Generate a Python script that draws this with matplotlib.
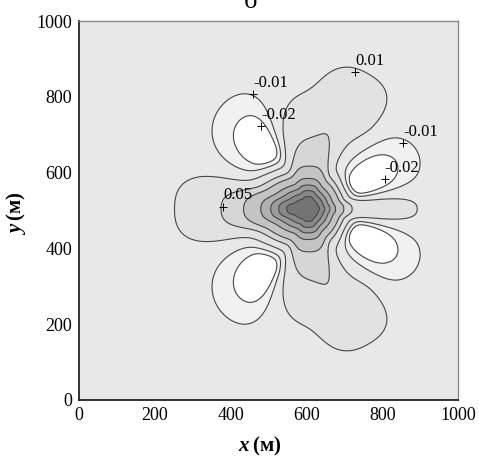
import numpy as np
import matplotlib.pyplot as plt

plt.rcParams['font.family'] = ['Liberation Serif', 'DejaVu Serif']
plt.rcParams['mathtext.fontset'] = 'custom'
plt.rcParams['mathtext.bfit'] = 'Liberation Serif:italic:bold'
plt.rcParams['mathtext.rm'] = 'Liberation Serif'

# центр и лепестки поля (оценка по рисунку, координаты в метрах)
x0, y0 = 605, 504
core_amp = 0.6
core_sx_left, core_sx_right, core_sy = 70, 45, 46

lobe_ang = [0, 88, -88, 66, -66, 180, 28, -28, 126, -126]          # град.
lobe_amp = [0.035, 0.072, 0.072, 0.026, 0.026, 0.08,
            -0.034, -0.034, -0.032, -0.032]
lobe_r = [120, 100, 100, 280, 280, 107, 145, 145, 190, 190]
lobe_w_in = [1e4, 1e4, 1e4, 50, 50, 1e4, 40, 40, 45, 45]
lobe_w_out = [125, 110, 110, 75, 75, 121, 115, 115, 110, 110]
lobe_width = [9, 21, 21, 13, 13, 15, 14, 14, 17, 17]              # град.
lobe_power = [3, 4, 4, 3, 3, 3, 2, 2, 2, 2]

levels = [-1.0, -0.02, -0.01, 0.01, 0.05, 0.1, 0.2, 0.3, 0.4, 0.5, 1.0]
fill_colors = ['#ffffff', '#f1f1f1', '#e8e8e8', '#e2e2e2', '#d6d6d6',
               '#c4c4c4', '#b0b0b0', '#9c9c9c', '#888888', '#747474']

label_text = ['0.01', '-0.01', '-0.02', '-0.01', '-0.02', '0.05']
label_x = [728, 459, 480, 855, 807, 380]
label_y = [865, 807, 723, 678, 583, 510]

# сетка
xs = np.linspace(0, 1000, 501)
X, Y = np.meshgrid(xs, xs)
dx, dy = X - x0, Y - y0
R = np.hypot(dx, dy)
T = np.degrees(np.arctan2(dy, dx))

sx = np.where(dx < 0, core_sx_left, core_sx_right)
Z = core_amp * np.exp(-0.5 * ((dx / sx) ** 2 + (dy / core_sy) ** 2))
taper = 1 - np.exp(-(R / 40) ** 2)
for ang, amp, rc, w_in, w_out, wid, p in zip(lobe_ang, lobe_amp, lobe_r, lobe_w_in,
                                             lobe_w_out, lobe_width, lobe_power):
    d = np.abs((T - ang + 180) % 360 - 180)
    w = np.where(R < rc, w_in, w_out)
    Z += amp * taper * np.exp(-0.5 * ((R - rc) / w) ** 2) * np.exp(-0.5 * (d / wid) ** p)

fig = plt.figure(figsize=(4.79, 4.57), dpi=100)
ax = fig.add_axes([79 / 479, 1 - 400 / 457, 379 / 479, 379 / 457])

ax.contourf(X, Y, Z, levels=levels, colors=fill_colors)
ax.contour(X, Y, Z, levels=levels[1:-1], colors='#474747', linewidths=0.8,
           linestyles='solid')

ax.plot(label_x, label_y, '+', color='black', ms=6, mew=0.7)
for t, lx, ly in zip(label_text, label_x, label_y):
    ax.annotate(t, (lx, ly), xytext=(0, 2.5), textcoords='offset points',
                ha='left', va='bottom', fontsize=12)

ax.set_xlim(0, 1000)
ax.set_ylim(0, 1000)
ax.set_xticks([0, 200, 400, 600, 800, 1000])
ax.set_yticks([0, 200, 400, 600, 800, 1000])
ax.tick_params(length=0, labelsize=13, pad=5)
for s in ['left', 'bottom']:
    ax.spines[s].set_color('#222222')
    ax.spines[s].set_linewidth(1.3)
for s in ['top', 'right']:
    ax.spines[s].set_color('#8a8a8a')
    ax.spines[s].set_linewidth(1.0)

fig.text(260 / 479, 1 - 446 / 457, r'$\mathbfit{x}\,$(м)', ha='center', va='center',
         fontsize=15, fontweight='bold')
fig.text(16 / 479, 1 - 213 / 457, r'$\mathbfit{y}\,$(м)', ha='center', va='center',
         rotation=90, fontsize=15, fontweight='bold')
fig.text(250 / 479, 1 - 8 / 457, 'б', ha='center', va='baseline', fontsize=19)

fig.savefig('out.png', dpi=100)
